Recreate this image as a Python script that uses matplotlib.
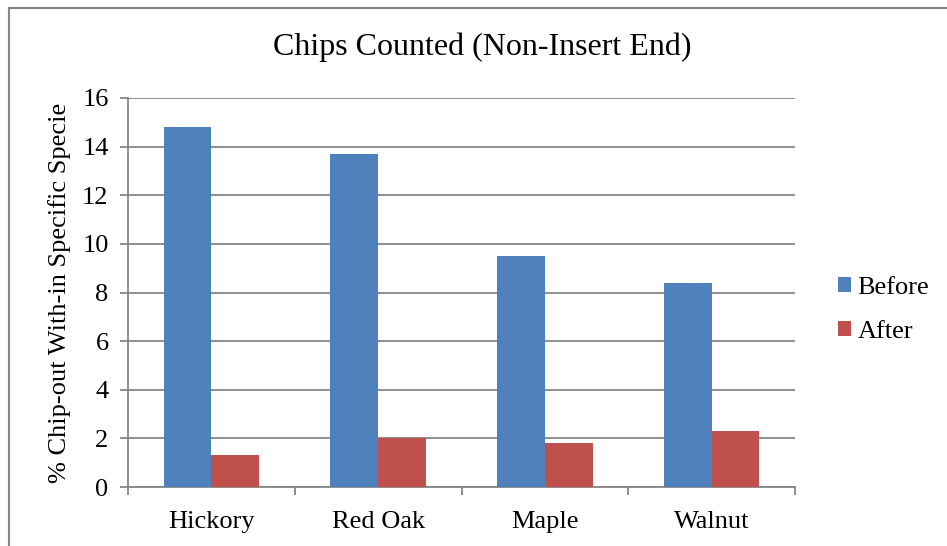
import numpy as np
import matplotlib.pyplot as plt
from matplotlib.lines import Line2D

plt.rcParams['font.family'] = ['Liberation Serif', 'DejaVu Serif']

# data
species = ['Hickory', 'Red Oak', 'Maple', 'Walnut']
before = [14.8, 13.7, 9.5, 8.4]
after = [1.3, 2.0, 1.8, 2.3]
series_names = ['Before', 'After']
colors = ['#4F81BD', '#C0504D']
yticks = [0, 2, 4, 6, 8, 10, 12, 14, 16]

grid_c = '#868686'
fs = 19

fig = plt.figure(figsize=(9.47, 5.46), dpi=100)
ax = fig.add_axes([128 / 947, 1 - 487 / 546, (795 - 128) / 947, (487 - 98) / 546])

x = np.arange(len(species))
w = 1 / 3.5
ax.bar(x - w / 2, before, w, color=colors[0], label=series_names[0], zorder=3)
ax.bar(x + w / 2, after, w, color=colors[1], label=series_names[1], zorder=3)

ax.set_xlim(-0.5, len(species) - 0.5)
ax.set_ylim(0, 16)
ax.set_yticks(yticks)
ax.set_yticklabels([str(v) for v in yticks], fontsize=fs)
ax.yaxis.grid(True, color=grid_c, linewidth=1.3, zorder=0)

# category labels in the middle, tick marks on the boundaries
ax.set_xticks(np.arange(-0.5, len(species)), minor=False)
ax.set_xticklabels([])
ax.set_xticks(x, minor=True)
ax.set_xticklabels(species, minor=True, fontsize=fs)
ax.tick_params(axis='x', which='minor', length=0, pad=17)
ax.tick_params(axis='x', which='major', length=6, width=1.3, color=grid_c, direction='out')
ax.tick_params(axis='y', length=6, width=1.3, color=grid_c, direction='out', pad=8)

for side in ['top', 'right']:
    ax.spines[side].set_visible(False)
for side in ['left', 'bottom']:
    ax.spines[side].set_color(grid_c)
    ax.spines[side].set_linewidth(1.3)

ax.set_ylabel('% Chip-out With-in Specific Specie', fontsize=fs, labelpad=8)
fig.text(482 / 947, 1 - 47 / 546, 'Chips Counted (Non-Insert End)', fontsize=23,
         ha='center', va='center')

ax.legend(loc='center left', bbox_to_anchor=(814 / 947, 1 - 310 / 546),
          bbox_transform=fig.transFigure, frameon=False, fontsize=fs,
          handlelength=0.5, handleheight=0.5, handletextpad=0.25, labelspacing=0.85)

# outer chart border (open at right and bottom)
fig.add_artist(Line2D([9 / 947, 1], [1 - 8 / 546, 1 - 8 / 546], color=grid_c,
                      linewidth=1.5, transform=fig.transFigure))
fig.add_artist(Line2D([9 / 947, 9 / 947], [0, 1 - 8 / 546], color=grid_c,
                      linewidth=1.5, transform=fig.transFigure))

fig.savefig('out.png', dpi=100)
